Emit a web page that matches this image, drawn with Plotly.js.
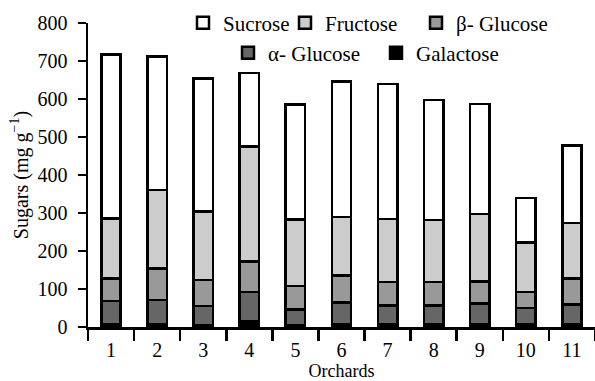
<!DOCTYPE html>
<html>
<head>
<meta charset="utf-8">
<script src="https://cdn.plot.ly/plotly-3.0.1.min.js"></script>
<style>html,body{margin:0;padding:0;background:#fff;}#chart{width:595px;height:381px;}</style>
</head>
<body>
<div id="chart"></div>
<script>
var orchards = ["1","2","3","4","5","6","7","8","9","10","11"];
var galactose = [8, 8, 5, 15, 5, 7, 7, 6, 7, 7, 7];
var alphaGlucose = [60, 63, 50, 77, 41, 57, 50, 51, 55, 43, 52];
var betaGlucose = [60, 83, 69, 80, 62, 72, 62, 62, 58, 42, 68];
var fructose = [158, 207, 180, 303, 175, 154, 165, 162, 177, 130, 147];
var sucrose = [431, 351, 350, 193, 302, 356, 355, 317, 290, 117, 203];

var FONT = "Liberation Serif";
function mk(name, vals, color, legendId) {
  return {
    type: "bar", name: name, x: orchards, y: vals, legend: legendId,
    marker: {color: color, line: {color: "#000", width: 2.5}},
    hoverinfo: "y+name"
  };
}
var data = [
  mk("Galactose", galactose, "#000000", "legend5"),
  mk("α- Glucose", alphaGlucose, "#666666", "legend4"),
  mk("β- Glucose", betaGlucose, "#999999", "legend3"),
  mk("Fructose", fructose, "#cccccc", "legend2"),
  mk("Sucrose", sucrose, "#ffffff", "legend")
];
function leg(xpx, ypx) {
  return {xref: "paper", yref: "paper", x: (xpx - 88) / 507, y: (327 - ypx) / 304,
          xanchor: "left", yanchor: "middle", orientation: "h",
          bgcolor: "rgba(0,0,0,0)", borderwidth: 0,
          font: {family: FONT, size: 21, color: "#000"}};
}
var layout = {
  width: 595, height: 381,
  margin: {l: 88, r: 0, t: 23, b: 54, autoexpand: false},
  paper_bgcolor: "#fff", plot_bgcolor: "#fff",
  barmode: "stack", bargap: 0.58,
  font: {family: FONT, color: "#000", size: 20},
  showlegend: true,
  legend: leg(183, 23),
  legend2: leg(285, 23),
  legend3: leg(416, 23),
  legend4: leg(228, 53),
  legend5: leg(376, 53),
  xaxis: {
    type: "category", range: [-0.5, 10.5], tickson: "boundaries",
    ticks: "outside", ticklen: 11, tickwidth: 2.5, tickcolor: "#000",
    showline: true, linewidth: 2.5, linecolor: "#000", showgrid: false,
    ticklabelstandoff: 3, automargin: false,
    tickfont: {family: FONT, size: 20, color: "#000"},
    title: {text: "Orchards", font: {family: FONT, size: 18, color: "#000"}, standoff: 12}
  },
  yaxis: {
    range: [0, 800], dtick: 100, tick0: 0,
    ticks: "outside", ticklen: 8, tickwidth: 2.5, tickcolor: "#000",
    showline: true, linewidth: 2.5, linecolor: "#000", showgrid: false, zeroline: false,
    ticklabelstandoff: 6, automargin: false,
    tickfont: {family: FONT, size: 20, color: "#000"},
    title: {text: "Sugars (mg g<sup>−1</sup>)", font: {family: FONT, size: 20, color: "#000"}, standoff: 4}
  }
};
Plotly.newPlot("chart", data, layout, {displayModeBar: false, staticPlot: true});
</script>
</body>
</html>
